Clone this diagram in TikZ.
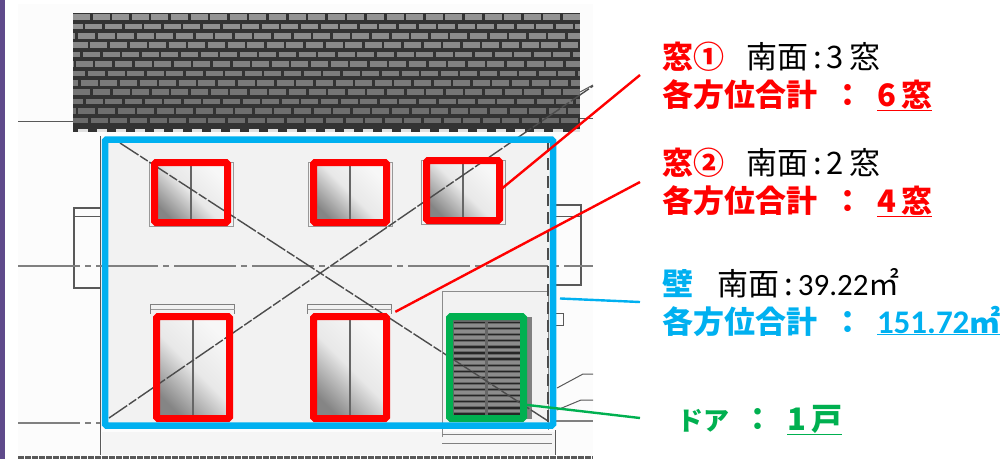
\documentclass[tikz,border=0pt]{standalone}
\usepackage{fontspec}
\usetikzlibrary{positioning,calc,backgrounds}
\setmainfont{Noto Sans CJK JP}
\newfontfamily\latinfont{Carlito}
\definecolor{wred}{HTML}{FF0000}
\definecolor{wblue}{HTML}{00B0F0}
\definecolor{wgreen}{HTML}{00B050}
\definecolor{bandpurple}{HTML}{5F4A8B}
\tikzset{
	x=1pt, y=-1pt,
	frame/.style={draw=#1, line width=7pt, rounded corners=1.5pt, inner sep=0pt, outer sep=0pt},
	winframe/.style={frame=wred, minimum width=73pt},
	lead/.style={draw=#1, line width=2.4pt},
	scan/.style={draw=black!65, line width=1pt},
	diag/.style={draw=black!70, line width=1.4pt, dash pattern=on 22pt off 2pt on 9pt off 2pt},
	centre/.style={draw=black!50, line width=1.2pt, dash pattern=on 62pt off 5pt on 6pt off 5pt},
	brick/.style={line width=5.6pt, dash pattern=on 17pt off 2.6pt},
	lab/.style={inner sep=0pt, outer sep=0pt, anchor=base west, font=\fontsize{31}{31}\selectfont},
	labb/.style={lab, font=\fontsize{31}{31}\selectfont\bfseries, text=#1},
}
\begin{document}
\begin{tikzpicture}
	\useasboundingbox (0,0) rectangle (1004,459);

	% outlines on top
	\node[winframe, minimum height=60pt] (win1) at (191,192.5) {};
	\node[winframe, minimum height=60pt, right=86pt of win1] (win2) {};
	\node[winframe, minimum height=60pt, right=40pt of win2, yshift=2pt] (win3) {};
	\node[winframe, minimum height=102pt] (win4) at (193,367.5) {};
	\node[winframe, minimum height=102pt, right=84pt of win4] (win5) {};
	\node[frame=wgreen, minimum width=74pt, minimum height=102pt, right=63pt of win5] (door) {};
	\node[frame=wblue, line width=6.5pt, minimum width=448pt, minimum height=286pt] (wall) at (329,282.5) {};

	\begin{scope}[on background layer]
		% scanned sheet
		\fill[bandpurple] (0,0) rectangle (5,459);
		\fill[black!1] (18,4) rectangle (593,459);
		\fill[black!5] (wall.north west) rectangle (wall.south east);
		\fill[black!4] (102,432) rectangle (555,455);

		% roof
		\fill[black!80] (73,13) rectangle (580,132);
		\begin{scope}
			\clip (73,13) rectangle (580,132);
			\foreach \r in {0,...,11} {
				\pgfmathtruncatemacro{\shade}{42+\r*1.5}
				\draw[brick, draw=black!\shade, dash phase=\r*7.3pt] (73,{17+\r*9.4}) -- (580,{17+\r*9.4});
			}
		\end{scope}
		\draw[black!12, line width=3pt, dash pattern=on 10pt off 9pt] (78,130.5) -- (580,130.5);

		% side boxes and site lines
		\draw[scan] (100,136) -- (100,455);
		\draw[scan, line width=1.5pt] (100,208) -| (74,288) -- (100,288);
		\draw[scan] (74,216) -- (100,216);
		\draw[scan, line width=1.5pt] (556,205) -- (581,205) |- (556,285);
		\draw[scan] (556,216) -- (581,216);
		\draw[scan] (556,313) -| (563,325) -- (556,325);
		\draw[scan] (18,121) -- (73,121);
		\draw[scan] (580,92) -- (593,85);
		\draw[scan] (580,118) -- (593,118);
		\draw[scan] (557,388) -- (583,374) -- (593,374);
		\draw[scan] (557,410) -- (581,400) -- (593,400);
		\draw[centre] (18,266) -- (593,266);
		\draw[centre] (18,423) -- (100,423);
		\draw[centre] (556,421) -- (593,421);
		\draw[black!65, line width=3pt, dash pattern=on 6pt off 1pt] (18,457) -- (593,457);

		% porch
		\draw[scan, black!45] (442,437) |- (548,291) -- (548,430);
		\draw[scan, black!50] (442,434) -- (552,434);
		\draw[scan, black!50] (442,443) -- (552,443);
		\draw[scan] (555,430) -- (555,455);
		\draw[black!70, line width=2pt, dash pattern=on 12pt off 6pt] (548,140) -- (548,422);

		% window heads
		\foreach \w in {win4,win5} {
			\draw[scan, black!50, line width=1.5pt] ($(\w.north west)+(-6,-3)$) |- ($(\w.north east)+(5,-12)$) -- ($(\w.north east)+(5,-3)$);
			\draw[scan, black!40] ($(\w.north west)+(-6,-7)$) -- ($(\w.north east)+(5,-7)$);
		}
		\foreach \w in {win1,win2,win3}
			\draw[scan, black!40, line width=1.5pt] ($(\w.north west)+(-5,0)$) rectangle ($(\w.south east)+(6,4)$);

		% panes
		\foreach \w in {win1,win2,win3,win4,win5} {
			\shade[bottom color=black!48, top color=black!3, middle color=black!9, shading angle=-45]
				(\w.north west) rectangle (\w.south east);
			\draw[black!60, line width=1.8pt] (\w.north) -- (\w.south);
		}

		% door louvers
		\fill[black!60] (door.north west) rectangle (door.south east);
		\fill[black!50] (door.north east) rectangle ($(door.south east)+(8,0)$);
		\foreach \r in {0,...,15} {
			\draw[black!85, line width=1.3pt] ($(door.north west)+(4,{6+\r*6.1})$) -- ($(door.north east)+(-4,{6+\r*6.1})$);
			\draw[black!45, line width=2.8pt] ($(door.north west)+(4,{9+\r*6.1})$) -- ($(door.north east)+(-4,{9+\r*6.1})$);
		}
		\draw[black!60, line width=3pt] (door.north) -- (door.south);

		% crossing lines
		\draw[diag] (120,143) -- (548,421);
		\draw[diag] (109,418) -- (593,86);
	\end{scope}

	\coordinate (tipa) at (640,75);
	\coordinate (tipb) at (640,182);
	\coordinate (tipc) at (640,302);
	\coordinate (tipd) at (640,418);

	\draw[lead=wred] (win3.east) -- (tipa);
	\draw[lead=wred, shorten <=10pt] (win5.north east) -- (tipb);
	\draw[lead=wblue, shorten <=7pt] (wall.-4.5) -- (tipc);
	\draw[lead=wgreen] (door.-45) -- (tipd);

	% labels
	\node[labb=wred] (titlea) at (662,68) {窓①};
	\node[lab, base right=22pt of titlea] (southa) {南面\,:\,3\,窓};
	\node[labb=wred] (suma) at ($(titlea.base west)+(0,38)$) {各方位合計};
	\node[labb=wred, base right=15pt of suma] (sepa) {：};
	\node[labb=wred, base right=14pt of sepa] (vala) {\underline{6\,窓}};

	\node[labb=wred] (titleb) at (662,174) {窓②};
	\node[lab, base right=22pt of titleb] (southb) {南面\,:\,2\,窓};
	\node[labb=wred] (sumb) at ($(titleb.base west)+(0,38)$) {各方位合計};
	\node[labb=wred, base right=15pt of sumb] (sepb) {：};
	\node[labb=wred, base right=14pt of sepb] (valb) {\underline{4\,窓}};

	\node[labb=wblue] (titlec) at (662,295) {壁};
	\node[lab, base right=24pt of titlec] (southc) {南面\,:\,{\latinfont 39.22}㎡};
	\node[labb=wblue] (sumc) at ($(titlec.base west)+(0,38)$) {各方位合計};
	\node[labb=wblue, base right=15pt of sumc] (sepc) {：};
	\node[labb=wblue, base right=14pt of sepc] (valc) {\underline{{\latinfont\bfseries\fontsize{33}{33}\selectfont 151.72}㎡}};

	\node[labb=wgreen, font=\fontsize{26}{26}\selectfont\bfseries] (titled) at (677,430) {ドア};
	\node[labb=wgreen, base right=13pt of titled] (sepd) {：};
	\node[labb=wgreen, base right=14pt of sepd] (vald) {\underline{1\,戸}};
\end{tikzpicture}
\end{document}
